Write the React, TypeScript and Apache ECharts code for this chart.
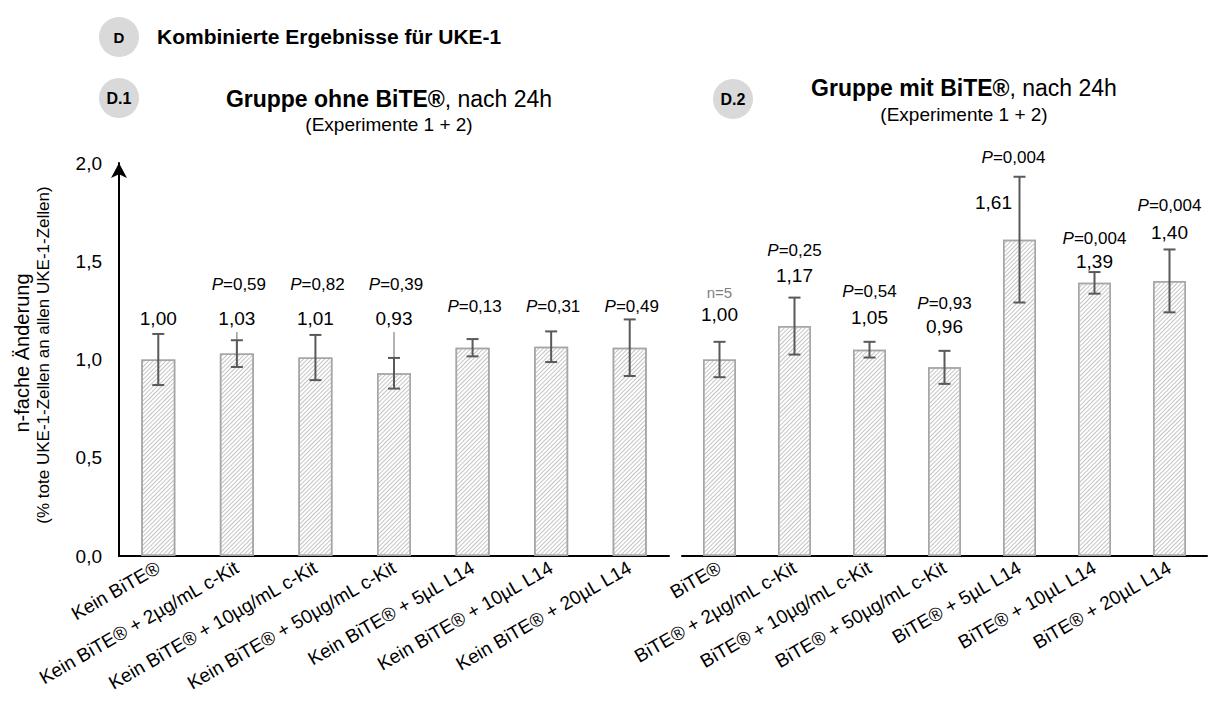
import React, { useEffect, useRef } from "react";
import * as echarts from "echarts";

// ---------- DATA ----------
const leftCategories = [
  "Kein BiTE®",
  "Kein BiTE® + 2µg/mL c-Kit",
  "Kein BiTE® + 10µg/mL c-Kit",
  "Kein BiTE® + 50µg/mL c-Kit",
  "Kein BiTE® + 5µL L14",
  "Kein BiTE® + 10µL L14",
  "Kein BiTE® + 20µL L14",
];
const leftMeans = [1.0, 1.03, 1.01, 0.93, 1.06, 1.065, 1.06];
const leftSD = [0.13, 0.068, 0.115, 0.078, 0.044, 0.078, 0.144];
const leftFaintTop: (number | null)[] = [null, 1.14, null, 1.14, null, null, null];
const leftValueLabels: (number | null)[] = [1.0, 1.03, 1.01, 0.93, null, null, null];
const leftPLabels: (string | null)[] = [null, "0,59", "0,82", "0,39", "0,13", "0,31", "0,49"];

const rightCategories = [
  "BiTE®",
  "BiTE® + 2µg/mL c-Kit",
  "BiTE® + 10µg/mL c-Kit",
  "BiTE® + 50µg/mL c-Kit",
  "BiTE® + 5µL L14",
  "BiTE® + 10µL L14",
  "BiTE® + 20µL L14",
];
const rightMeans = [1.0, 1.17, 1.05, 0.96, 1.61, 1.39, 1.4];
const rightSD = [0.09, 0.145, 0.04, 0.084, 0.32, 0.055, 0.16];
const rightValueLabels: (number | null)[] = [1.0, 1.17, 1.05, 0.96, 1.61, 1.39, 1.4];
const rightPLabels: (string | null)[] = ["n=5", "0,25", "0,54", "0,93", "0,004", "0,004", "0,004"];

const yTicks = [0, 0.5, 1.0, 1.5, 2.0];

// ---------- STYLE (label placement, px) ----------
const FONT = "'Liberation Sans', Arial, Helvetica, sans-serif";
const ERR = "#595959";
// left panel: labels sit on common levels (axis units of the label row)
const leftLayout = { valueLevel: 1.21, pLevel: 1.38, pOnlyLevel: 1.27 };
// right panel: offsets relative to top of error bar
const rightValueDy = [-27, -22, -24, -24, 26, -11, -17];
const rightValueDx = [0, 0, 0, 0, -26, 0, 0];
const rightPDy = [-49, -47, -50, -47, -19, -34, -44];

const fmt = (v: number, d: number) => v.toFixed(d).replace(".", ",");

function pText(x: number, y: number, pl: string) {
  if (pl.startsWith("n=")) {
    return {
      type: "text",
      style: {
        x,
        y,
        text: pl,
        fill: "#7f7f7f",
        fontSize: 15,
        fontFamily: FONT,
        align: "center",
        verticalAlign: "middle",
      },
    };
  }
  return {
    type: "text",
    style: {
      x,
      y,
      text: "{i|P}{n|=" + pl + "}",
      align: "center",
      verticalAlign: "middle",
      rich: {
        i: { fontStyle: "italic", fontSize: 17, fontFamily: FONT, fill: "#000" },
        n: { fontSize: 17, fontFamily: FONT, fill: "#000" },
      },
    },
  };
}

function valueText(x: number, y: number, v: number) {
  return {
    type: "text",
    style: {
      x,
      y,
      text: fmt(v, 2),
      fill: "#000",
      fontSize: 19,
      fontFamily: FONT,
      align: "center",
      verticalAlign: "middle",
    },
  };
}

function makeErrorSeries(
  gridIdx: number,
  means: number[],
  sds: number[],
  valueLabels: (number | null)[],
  pLabels: (string | null)[],
  faintTop: (number | null)[] | null,
  placement: "left" | "right"
) {
  return {
    type: "custom",
    xAxisIndex: gridIdx,
    yAxisIndex: gridIdx,
    silent: true,
    z: 10,
    data: means.map((m, i) => [i, m, sds[i]]),
    renderItem: (params: any, api: any) => {
      const i = params.dataIndex;
      const m = api.value(1);
      const sd = api.value(2);
      const top = api.coord([i, m + sd]);
      const bot = api.coord([i, m - sd]);
      const cx = top[0];
      const children: any[] = [];
      const cap = 6;
      if (faintTop && faintTop[i] != null) {
        const ft = api.coord([i, faintTop[i] as number]);
        children.push({
          type: "line",
          shape: { x1: cx, y1: ft[1], x2: cx, y2: bot[1] },
          style: { stroke: "#9a9a9a", lineWidth: 1.5 },
        });
      }
      children.push(
        {
          type: "line",
          shape: { x1: cx, y1: top[1], x2: cx, y2: bot[1] },
          style: { stroke: ERR, lineWidth: 2 },
        },
        {
          type: "line",
          shape: { x1: cx - cap, y1: top[1], x2: cx + cap, y2: top[1] },
          style: { stroke: ERR, lineWidth: 2 },
        },
        {
          type: "line",
          shape: { x1: cx - cap, y1: bot[1], x2: cx + cap, y2: bot[1] },
          style: { stroke: ERR, lineWidth: 2 },
        }
      );
      const vl = valueLabels[i];
      const pl = pLabels[i];
      if (placement === "left") {
        if (vl != null) {
          const vy = api.coord([i, leftLayout.valueLevel])[1];
          children.push(valueText(cx, vy, vl));
        }
        if (pl != null) {
          const lvl = vl != null ? leftLayout.pLevel : leftLayout.pOnlyLevel;
          const py = api.coord([i, lvl])[1];
          children.push(pText(cx + 2, py, pl));
        }
      } else {
        if (vl != null) children.push(valueText(cx + rightValueDx[i], top[1] + rightValueDy[i], vl));
        if (pl != null) children.push(pText(cx - (rightValueDx[i] ? 6 : 0), top[1] + rightPDy[i], pl));
      }
      return { type: "group", children };
    },
  };
}

function titleRich(x: number, y: number, bold: string, rest: string) {
  return {
    type: "text",
    x,
    y,
    style: {
      text: "{b|" + bold + "}{n|" + rest + "}",
      align: "center",
      verticalAlign: "middle",
      rich: {
        b: { fontSize: 23, fontWeight: "bold", fontFamily: FONT, fill: "#000" },
        n: { fontSize: 23, fontFamily: FONT, fill: "#000" },
      },
    },
  };
}

function badge(cx: number, cy: number, label: string, size: number) {
  return [
    { type: "circle", shape: { cx, cy, r: 20 }, style: { fill: "#d9d9d9" } },
    {
      type: "text",
      x: cx,
      y: cy,
      style: { text: label, fontSize: size, fontWeight: "bold", fontFamily: FONT, fill: "#000", align: "center", verticalAlign: "middle" },
    },
  ];
}

export default function App() {
  const ref = useRef<HTMLDivElement>(null);
  useEffect(() => {
    if (!ref.current) return;
    const chart = echarts.init(ref.current, undefined, { renderer: "svg" });
    const barItemStyle = {
      color: "#ffffff",
      borderColor: "#a6a6a6",
      borderWidth: 1.5,
      decal: {
        symbol: "rect",
        symbolSize: 1,
        color: "#c4c4c4",
        dashArrayX: [1, 0],
        dashArrayY: [1, 2],
        rotation: -Math.PI / 4,
      },
    };
    const xLabel = {
      rotate: 30,
      fontSize: 19,
      color: "#000",
      fontFamily: FONT,
      margin: 10,
      interval: 0,
    };
    const option: any = {
      animation: false,
      backgroundColor: "#ffffff",
      textStyle: { fontFamily: FONT },
      grid: [
        { left: 119, right: 543, top: 163, bottom: 150, containLabel: false },
        { left: 682, right: 5, top: 163, bottom: 150, containLabel: false },
      ],
      xAxis: [
        {
          type: "category",
          gridIndex: 0,
          data: leftCategories,
          axisLine: { lineStyle: { color: "#000", width: 2 } },
          axisTick: { show: false },
          axisLabel: xLabel,
        },
        {
          type: "category",
          gridIndex: 1,
          data: rightCategories,
          axisLine: { lineStyle: { color: "#000", width: 2 } },
          axisTick: { show: false },
          axisLabel: xLabel,
        },
      ],
      yAxis: [
        {
          type: "value",
          gridIndex: 0,
          min: yTicks[0],
          max: yTicks[yTicks.length - 1],
          interval: 0.5,
          splitLine: { show: false },
          axisTick: { show: false },
          axisLine: {
            show: true,
            symbol: ["none", "arrow"],
            symbolSize: [12, 15],
            symbolOffset: [0, 0],
            lineStyle: { color: "#000", width: 2 },
          },
          axisLabel: {
            fontSize: 19,
            color: "#000",
            fontFamily: FONT,
            margin: 17,
            formatter: (v: number) => fmt(v, 1),
          },
        },
        {
          type: "value",
          gridIndex: 1,
          min: yTicks[0],
          max: yTicks[yTicks.length - 1],
          interval: 0.5,
          show: false,
          splitLine: { show: false },
        },
      ],
      series: [
        {
          type: "bar",
          xAxisIndex: 0,
          yAxisIndex: 0,
          data: leftMeans,
          barWidth: 34,
          itemStyle: barItemStyle,
          silent: true,
        },
        {
          type: "bar",
          xAxisIndex: 1,
          yAxisIndex: 1,
          data: rightMeans,
          barWidth: 33,
          itemStyle: barItemStyle,
          silent: true,
        },
        makeErrorSeries(0, leftMeans, leftSD, leftValueLabels, leftPLabels, leftFaintTop, "left"),
        makeErrorSeries(1, rightMeans, rightSD, rightValueLabels, rightPLabels, null, "right"),
      ],
      graphic: [
        ...badge(119, 37, "D", 15),
        {
          type: "text",
          x: 157,
          y: 36,
          style: { text: "Kombinierte Ergebnisse für UKE-1", fontSize: 21, fontWeight: "bold", fontFamily: FONT, fill: "#000", align: "left", verticalAlign: "middle" },
        },
        ...badge(119, 98, "D.1", 16),
        titleRich(389, 99, "Gruppe ohne BiTE®", ", nach 24h"),
        {
          type: "text",
          x: 389,
          y: 124,
          style: { text: "(Experimente 1 + 2)", fontSize: 19, fontFamily: FONT, fill: "#000", align: "center", verticalAlign: "middle" },
        },
        ...badge(733, 99, "D.2", 16),
        titleRich(964, 88, "Gruppe mit BiTE®", ", nach 24h"),
        {
          type: "text",
          x: 964,
          y: 114,
          style: { text: "(Experimente 1 + 2)", fontSize: 19, fontFamily: FONT, fill: "#000", align: "center", verticalAlign: "middle" },
        },
        {
          type: "text",
          x: 22,
          y: 353,
          rotation: Math.PI / 2,
          style: { text: "n-fache Änderung", fontSize: 20, fontFamily: FONT, fill: "#000", align: "center", verticalAlign: "middle" },
        },
        {
          type: "text",
          x: 43,
          y: 355,
          rotation: Math.PI / 2,
          style: { text: "(% tote UKE-1-Zellen an allen UKE-1-Zellen)", fontSize: 17, fontFamily: FONT, fill: "#000", align: "center", verticalAlign: "middle" },
        },
      ],
    };
    chart.setOption(option);
    return () => chart.dispose();
  }, []);
  return (
    <div
      ref={ref}
      style={{ position: "absolute", left: 0, top: 0, width: 1212, height: 706, background: "#fff" }}
    />
  );
}
